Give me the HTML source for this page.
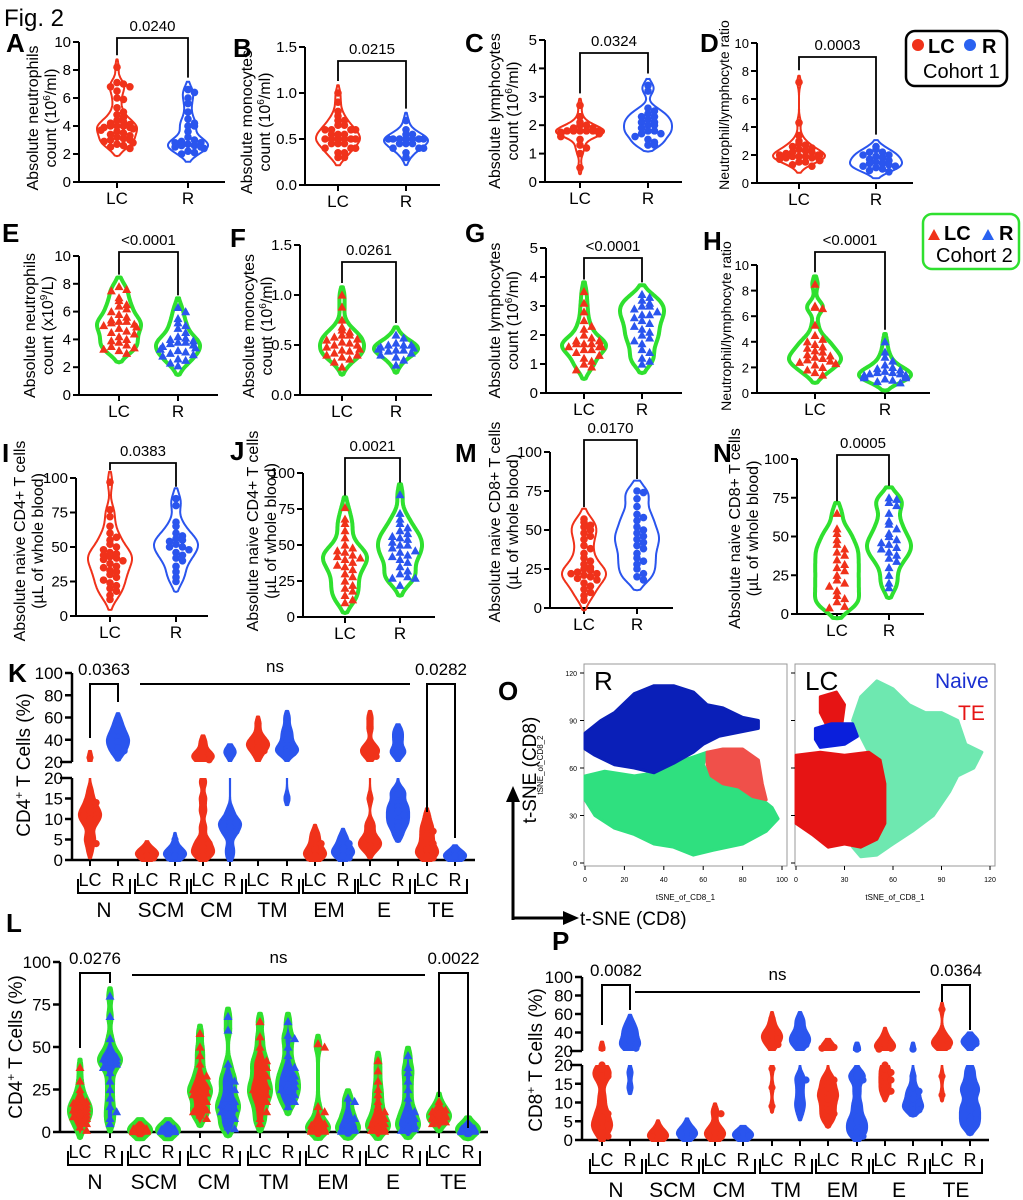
<!DOCTYPE html>
<html><head><meta charset="utf-8"><style>
html,body{margin:0;padding:0;background:#fff;}
svg{display:block;font-family:"Liberation Sans",sans-serif;}
</style></head><body>
<svg id="fig" width="1023" height="1200" viewBox="0 0 1023 1200" xmlns="http://www.w3.org/2000/svg">
<defs>
<clipPath id="kLow"><rect x="60" y="778" width="430" height="84"/></clipPath>
<clipPath id="kUp"><rect x="60" y="660" width="430" height="102"/></clipPath>
<clipPath id="pLow"><rect x="570" y="1065" width="430" height="77"/></clipPath>
<clipPath id="pUp"><rect x="570" y="965" width="430" height="86"/></clipPath>
</defs>
<text x="4" y="26" font-size="24">Fig. 2</text>
<g>
<rect x="906" y="31" width="101" height="55" rx="9" fill="#fff" stroke="#000" stroke-width="2.5"/>
<circle cx="918" cy="45" r="6" fill="#f0321a"/>
<text x="928" y="53" font-size="20" font-weight="bold">LC</text>
<circle cx="970" cy="45" r="6" fill="#2a62f0"/>
<text x="982" y="53" font-size="20" font-weight="bold">R</text>
<text x="923" y="78" font-size="20">Cohort 1</text>
</g>
<g>
<rect x="923" y="214" width="96" height="55" rx="9" fill="#fff" stroke="#2fe02f" stroke-width="2.5"/>
<polygon points="928,240 934,229 940,240" fill="#f0321a"/>
<text x="944" y="240" font-size="20" font-weight="bold">LC</text>
<polygon points="982,240 988,229 994,240" fill="#2a62f0"/>
<text x="999" y="240" font-size="20" font-weight="bold">R</text>
<text x="936" y="262" font-size="20">Cohort 2</text>
</g>
<g id="panels"></g>
<g id="tsne"></g>
</svg>
<script>
// ---------- DATA ----------
const categoriesPair = ["LC","R"];
const A_LC=[8.2,7.1,7,6.8,6.8,6.5,6,5.9,5.3,5,4.8,4.6,4.4,4.3,4.2,4.1,4,4,4,3.9,3.9,3.8,3.7,3.6,3.5,3.4,3.3,3.2,3.1,3,3,2.9,2.8,2.7,2.6,2.5,2.4];
const A_R=[6.6,6.4,6,5.6,5,4.5,4.2,4,4,3.6,3.2,3,2.9,2.8,2.8,2.7,2.6,2.6,2.5,2.5,2.4,2.2,2.1,2];
const B_LC=[1.0,0.9,0.8,0.75,0.7,0.7,0.65,0.65,0.6,0.6,0.6,0.6,0.55,0.55,0.55,0.5,0.5,0.5,0.5,0.5,0.5,0.45,0.45,0.45,0.4,0.4,0.4,0.35,0.35,0.3,0.3];
const B_R=[0.7,0.6,0.55,0.55,0.5,0.5,0.5,0.5,0.5,0.5,0.5,0.45,0.45,0.45,0.4,0.4,0.4,0.35,0.3];
const C_LC=[2.7,2.3,2.1,2,2,1.9,1.9,1.8,1.8,1.8,1.8,1.8,1.8,1.75,1.75,1.7,1.7,1.7,1.7,1.6,1.5,1.3,1.2,1,0.5];
const C_R=[3.4,3.2,2.6,2.5,2.4,2.3,2.3,2.2,2.1,2.1,2,2,1.9,1.8,1.8,1.7,1.7,1.6,1.5,1.4,1.3,1.3];
const D_LC=[7.2,4.3,3.4,3,2.8,2.7,2.6,2.5,2.4,2.3,2.2,2.2,2.1,2,2,2,1.9,1.9,1.9,1.8,1.8,1.8,1.7,1.6,1.5,1.5,1.3,1.2];
const D_R=[2.6,2.4,2.2,2.2,2,2,1.9,1.8,1.7,1.6,1.5,1.4,1.4,1.3,1.2,1.2,1.1,1,0.9,0.8];
const E_LC=[7.8,7.6,7.5,7,6.8,6.5,6.4,6.2,6,5.8,5.6,5.4,5.3,5.3,5.2,5.1,5,4.9,4.8,4.6,4.5,4.4,4.2,4,3.9,3.8,3.6,3.5,3.4,3.3,3.2,3];
const E_R=[6.3,6,5.5,5.2,5,4.8,4.5,4.2,4.1,4,3.9,3.8,3.8,3.7,3.6,3.5,3.4,3.3,3.2,3.1,3,2.9,2.8,2.6,2.5,2.3,2.1];
const F_LC=[1.0,0.88,0.75,0.68,0.65,0.63,0.6,0.6,0.58,0.56,0.55,0.53,0.52,0.5,0.5,0.48,0.46,0.45,0.44,0.42,0.4,0.4,0.38,0.36,0.33,0.28];
const F_R=[0.6,0.57,0.52,0.5,0.5,0.5,0.48,0.47,0.46,0.45,0.45,0.44,0.42,0.4,0.38,0.35,0.3];
const G_LC=[3.5,3.1,2.8,2.5,2.3,2.2,2,1.9,1.8,1.8,1.7,1.7,1.7,1.6,1.6,1.6,1.5,1.5,1.4,1.3,1.2,1.1,1,0.9,0.8];
const G_R=[3.4,3.3,3.2,3.1,3,3,2.9,2.8,2.7,2.7,2.6,2.5,2.4,2.3,2.2,2.1,2,1.9,1.8,1.7,1.5,1.4,1.2,1.1,1];
const H_LC=[8.5,6.8,6.7,6.6,5.3,4.5,4.2,4,3.8,3.6,3.5,3.3,3.2,3,2.9,2.8,2.7,2.6,2.5,2.4,2.3,2.2,2,1.8,1.6,1.4];
const H_R=[4,3.2,2.8,2.5,2.2,2,1.9,1.8,1.7,1.6,1.6,1.5,1.5,1.4,1.4,1.3,1.3,1.2,1.2,1.1,1.0,0.9,0.8];
const I_LC=[97,77,72,65,60,57,55,52,50,48,46,45,44,43,42,41,40,38,36,35,33,32,30,28,26,24,22,20,18,15,12];
const I_R=[85,80,68,65,60,58,56,55,54,52,50,50,48,46,44,42,40,36,32,28,25];
const J_LC=[76,68,65,60,55,50,48,46,45,43,42,41,40,38,36,35,33,30,28,25,22,20,18,15,12,10];
const J_R=[85,72,68,65,62,60,58,56,55,54,52,50,50,48,46,45,43,42,40,38,35,32,30,28,27,27,22];
const M_LC=[57,55,53,52,50,48,46,44,40,38,35,32,30,28,26,25,24,23,22,22,21,20,19,18,16,14,12,10,8,5];
const M_R=[75,74,70,65,60,58,56,52,50,48,46,44,42,40,38,35,32,30,28,25,22,20,18];
const N_LC=[65,55,52,48,45,42,40,38,35,32,30,28,25,22,20,18,15,12,10,8,5,4];
const N_R=[75,74,72,70,65,60,58,55,52,50,48,46,45,43,42,40,38,36,34,30,25,20,17];

const subsetCategories=["N","SCM","CM","TM","EM","E","TE"];
const K_LC=[[24,17,15,14,13,12,12,11,11,10,10,9,8,6,5,4,2],[3,2.5,2,2,1.8,1.5,1.5,1.2,1,1,0.8,0.5],[38,28,26,24,22,19,15,12,8,5,4,3,2,1.5,1],[55,45,40,38,36,35,33,30,25],[7,6,5,4,3,2.5,2,1.5,1.2,1,0.8,0.5],[60,50,35,32,30,28,25,15,9,8,6,5,4.5,4,3.5,3,2],[11,9,8,7,6,5,4,3,2.5,2,1.5,1,0.5]];
const K_R=[[58,52,48,45,42,40,38,36,33,30,27],[5,3,2.2,2,1.8,1.5,1.2,1,0.8,0.5],[30,28,12,10,9,9,8,7,6,3,1],[60,50,45,40,35,32,30,29,28,15],[6,5,4,3,2.5,2,2,1.5,1,0.5],[48,40,30,28,17,16,14,13,12,11,10,9,8,6],[2,1.5,1.2,1,0.8,0.6,0.5]];
const L_LC=[[38,30,25,22,20,18,17,16,15,14,13,12,11,10,9,8,7,5,3,1],[3,2,2,1.5,1,1,0.8,0.5,0.3],[58,50,45,40,35,33,30,28,27,25,24,23,22,20,18,15,13,12,10,8],[65,56,50,45,42,40,38,35,33,30,28,27,25,23,22,20,18,15,12,8,5],[52,50,15,12,8,6,5,4,3,2,2,1,1,0.5,0.5],[42,36,30,25,22,18,15,12,10,8,6,5,4,3,2,1,0.5],[18,15,13,12,11,10,9,9,8,7,6,5]];
const L_R=[[80,68,55,50,47,45,44,43,42,41,40,38,35,30,25,20,15,12,8,5],[3,2,1.5,1,1,0.8,0.5,0.3],[68,60,40,35,32,30,28,25,22,20,18,16,15,14,12,10,8,5,3,2],[65,57,55,50,45,40,38,35,33,32,30,28,27,25,24,22,20,18,15],[20,18,12,10,8,5,3,2,1.5,1,0.5],[45,38,35,30,25,20,15,12,10,8,6,4,3,2,1],[4,3,2,1.5,1,1,0.5,0.3]];
const P_LC=[[23,20,19,18,17,17,15,12,10,8,7,6,5,4,4,3,2,1],[3.5,2,1.5,1,1,0.8,0.5],[8,7,4,3,2.5,2,1.5,1,0.8,0.5],[55,48,42,40,38,36,35,33,30,27,25,19,14,9],[26,24,23,17,16,15,14,13,12,12,11,10,9,8,7,6,5],[38,32,28,26,25,24,23,22,20,19,18,17,16,15,14,13,12],[65,40,35,32,30,28,27,26,25,17,12]];
const P_R=[[52,45,42,38,33,30,27,25,23,18,14],[4,3,2,1.8,1.5,1.2,1],[2,1.8,1.5,1.2,1,1],[55,50,42,38,35,33,30,27,25,17,16,14,12,10,9,7],[22,18,17,16,13,10,8,6,5,4,3,2,1],[22,17,14,13,12,11,10,9,9,8,8],[33,30,28,19,17,15,14,13,12,10,9,8,7,6,5,4,3]];

const tsneR_blue=[[0,82],[8,90],[15,95],[25,107],[35,112],[45,112],[55,108],[62,100],[70,98],[80,92],[88,90],[88,85],[68,80],[60,75],[55,70],[45,63],[35,57],[25,60],[15,62],[5,68],[0,72]];
const tsneR_green=[[0,55],[10,58],[25,55],[35,57],[45,63],[55,67],[62,70],[60,62],[65,52],[75,48],[85,45],[95,35],[98,28],[92,20],[80,12],[65,8],[55,5],[45,10],[35,12],[25,18],[15,22],[5,30],[0,40]];
const tsneR_red=[[62,70],[70,72],[80,72],[88,65],[90,50],[92,40],[85,42],[78,48],[70,50],[64,55],[62,62]];
const tsneLC_green=[[40,105],[50,115],[60,110],[70,100],[80,95],[90,95],[100,90],[105,75],[115,70],[110,60],[100,55],[95,45],[85,30],[72,20],[60,12],[50,5],[40,4],[35,10],[45,20],[50,40],[45,70],[40,80],[35,90]];
const tsneLC_red=[[0,68],[15,70],[30,68],[45,70],[52,65],[55,50],[55,25],[50,15],[40,10],[30,12],[20,10],[10,18],[0,25]];
const tsneLC_red2=[[15,105],[25,108],[30,100],[28,85],[20,85],[15,95]];
const tsneLC_blue=[[12,85],[22,88],[35,88],[38,80],[30,75],[15,73],[12,78]];

// ---------- HELPERS ----------
const NS="http://www.w3.org/2000/svg";
const RED="#f0321a", BLUE="#2a55ee", GREEN="#2fe02f";
function mk(tag,attrs,parent,txt){const e=document.createElementNS(NS,tag);for(const k in attrs)e.setAttribute(k,attrs[k]);if(txt!==undefined)e.textContent=txt;(parent||document.getElementById('panels')).appendChild(e);return e;}
function kdeViolin(g,pys,cx,maxW,bw,stroke,sw,fill,clip){
  if(!pys.length)return;
  const mn=Math.min(...pys),mx=Math.max(...pys);
  const a=mn-bw*1.3,b=mx+bw*1.3;let dmax=0;const ds=[];
  for(let y=a;y<=b;y+=1){let d=0;for(const p of pys){const z=(y-p)/bw;d+=Math.exp(-0.5*z*z);}ds.push([y,d]);if(d>dmax)dmax=d;}
  const L=[],R=[];
  for(const [y,d] of ds){const w=maxW*d/dmax;R.push((cx+w).toFixed(1)+","+y.toFixed(1));L.unshift((cx-w).toFixed(1)+","+y.toFixed(1));}
  const p=mk('polygon',{points:cx+","+a+" "+R.join(" ")+" "+cx+","+b+" "+L.join(" "),fill:fill,stroke:stroke,'stroke-width':sw,'stroke-linejoin':'round'},g);
  
  
  if(clip)p.setAttribute('clip-path','url(#'+clip+')');
}
function drawPoints(g,pys,cx,spread,color,shape,r){
  const counts={};
  pys.forEach((y)=>{
    const key=Math.round(y/(r*1.6));counts[key]=(counts[key]||0)+1;
    const k=counts[key]-1;const off=(k%2?1:-1)*Math.ceil(k/2)*r*1.7;
    const x=cx+Math.max(-spread,Math.min(spread,off));
    let e;
    if(shape==='tri')e=mk('polygon',{points:`${x-r},${y+r*0.8} ${x},${y-r} ${x+r},${y+r*0.8}`,fill:color},g);
    else e=mk('circle',{cx:x,cy:y,r:r,fill:color},g);
    
    
  });
}
function yTitle(g,lines,x,cy,fs){
  const t=mk('text',{transform:`translate(${x},${cy}) rotate(-90)`,'font-size':fs,'text-anchor':'middle'},g);
  
  
  lines.forEach((l,i)=>{const ts=mk('tspan',{x:0,dy:i?fs*1.12:0},t);ts.innerHTML=l;});
}

// ---------- SIMPLE PANELS ----------
function simplePanel(c){
  const g=mk('g',{});
  
  
  const ys=v=>c.y0-(v/c.max)*(c.y0-c.yTop);
  mk('line',{x1:c.ax,y1:c.yTop,x2:c.ax,y2:c.y0,stroke:'#000','stroke-width':2},g);
  mk('line',{x1:c.ax,y1:c.y0,x2:c.x1,y2:c.y0,stroke:'#000','stroke-width':2},g);
  c.ticks.forEach(t=>{const y=ys(t);mk('line',{x1:c.ax-6,y1:y,x2:c.ax,y2:y,stroke:'#000','stroke-width':2},g);
    const tx=mk('text',{x:c.ax-8,y:y+5,'font-size':c.tfs||15,'text-anchor':'end'},g,c.fmt?c.fmt(t):String(t));
    });
  const tops=[];
  [0,1].forEach(i=>{
    const data=c.data[i],cx=c.cx[i];
    mk('line',{x1:cx,y1:c.y0,x2:cx,y2:c.y0+6,stroke:'#000','stroke-width':2},g);
    const lt=mk('text',{x:cx,y:c.y0+22,'font-size':17,'text-anchor':'middle'},g,categoriesPair[i]);
    
    const pys=data.map(ys);const col=i?BLUE:RED;
    if(c.style==='c2'){kdeViolin(g,pys,cx,c.w,c.bw,GREEN,4,'none');drawPoints(g,pys,cx,c.w*0.8,col,'tri',4.5);}
    else{kdeViolin(g,pys,cx,c.w,c.bw,col,2,'none');drawPoints(g,pys,cx,c.w*0.8,col,'c',3.8);}
    tops.push(Math.min(...pys)-12);
  });
  const by=c.by;
  mk('path',{d:`M${c.cx[0]},${tops[0]}V${by}H${c.cx[1]}V${tops[1]}`,fill:'none',stroke:'#000','stroke-width':1.8},g);
  const pt=mk('text',{x:(c.cx[0]+c.cx[1])/2,y:by-7,'font-size':15,'text-anchor':'middle'},g,c.p);
  
  yTitle(g,c.title,c.tx,(c.yTop+c.y0)/2+(c.tdy||0),c.tfs2||16);
  const lb=mk('text',{x:c.lx,y:c.ly,'font-size':26,'font-weight':'bold'},g,c.label);
  
}
const f1=t=>t.toFixed(1);
const cnt6='count (10<tspan dy="-6" font-size="10">6</tspan><tspan dy="6">/ml)</tspan>';
const blood='(µL of whole blood)';
simplePanel({label:'A',lx:6,ly:52,ax:79,x1:225,yTop:42,y0:182,max:10,ticks:[0,2,4,6,8,10],cx:[117,188],data:[A_LC,A_R],style:'c1',w:20,bw:6,by:38,p:'0.0240',title:['Absolute neutrophils',cnt6],tx:38,tdy:6});
simplePanel({label:'B',lx:233,ly:57,ax:305,x1:440,yTop:47,y0:185,max:1.5,ticks:[0,0.5,1,1.5],fmt:f1,cx:[338,406],data:[B_LC,B_R],style:'c1',w:22,bw:6,by:61,p:'0.0215',title:['Absolute monocytes',cnt6],tx:252,tdy:6});
simplePanel({label:'C',lx:465,ly:52,ax:545,x1:682,yTop:40,y0:182,max:5,ticks:[0,1,2,3,4,5],cx:[580,648],data:[C_LC,C_R],style:'c1',w:24,bw:5,by:53,p:'0.0324',title:['Absolute lymphocytes',cnt6],tx:500});
simplePanel({label:'D',lx:700,ly:52,ax:757,x1:913,yTop:43,y0:183,max:10,ticks:[0,2,4,6,8,10],tfs:13,cx:[799,876],data:[D_LC,D_R],style:'c1',w:26,bw:5,by:57,p:'0.0003',title:['Neutrophil/lymphocyte ratio'],tx:729,tfs2:14,tdy:-8});
simplePanel({label:'E',lx:2,ly:242,ax:79,x1:218,yTop:256,y0:395,max:10,ticks:[0,2,4,6,8,10],cx:[119,178],data:[E_LC,E_R],style:'c2',w:22,bw:7,by:252,p:'<0.0001',title:['Absolute neutrophils','count (x10<tspan dy="-6" font-size="10">9</tspan><tspan dy="6">/L)</tspan>'],tx:35});
simplePanel({label:'F',lx:230,ly:247,ax:300,x1:432,yTop:245,y0:395,max:1.5,ticks:[0,0.5,1,1.5],fmt:f1,cx:[342,396],data:[F_LC,F_R],style:'c2',w:22,bw:6,by:262,p:'0.0261',title:['Absolute monocytes',cnt6],tx:254,tdy:6});
simplePanel({label:'G',lx:465,ly:242,ax:546,x1:682,yTop:248,y0:393,max:5,ticks:[0,1,2,3,4,5],cx:[584,642],data:[G_LC,G_R],style:'c2',w:22,bw:7,by:258,p:'<0.0001',title:['Absolute lymphocytes',cnt6],tx:500});
simplePanel({label:'H',lx:703,ly:250,ax:757,x1:930,yTop:265,y0:393,max:10,ticks:[0,2,4,6,8,10],tfs:13,cx:[815,885],data:[H_LC,H_R],style:'c2',w:26,bw:6,by:252,p:'<0.0001',title:['Neutrophil/lymphocyte ratio'],tx:731,tfs2:14,tdy:-3});
simplePanel({label:'I',lx:2,ly:462,ax:76,x1:208,yTop:478,y0:616,max:100,ticks:[0,25,50,75,100],cx:[110,176],data:[I_LC,I_R],style:'c1',w:22,bw:8,by:463,p:'0.0383',title:['Absolute naive CD4+ T cells',blood],tx:25,tdy:-6});
simplePanel({label:'J',lx:230,ly:460,ax:303,x1:435,yTop:473,y0:617,max:100,ticks:[0,25,50,75,100],cx:[345,400],data:[J_LC,J_R],style:'c2',w:22,bw:8,by:458,p:'0.0021',title:['Absolute naive CD4+ T cells',blood],tx:258,tdy:-14});
simplePanel({label:'M',lx:455,ly:462,ax:550,x1:673,yTop:452,y0:608,max:100,ticks:[0,25,50,75,100],cx:[584,637],data:[M_LC,M_R],style:'c1',w:22,bw:8,by:440,p:'0.0170',title:['Absolute naive CD8+ T cells',blood],tx:500,tdy:-8});
simplePanel({label:'N',lx:713,ly:462,ax:797,x1:924,yTop:459,y0:614,max:100,ticks:[0,25,50,75,100],cx:[837,889],data:[N_LC,N_R],style:'c2',w:22,bw:8,by:455,p:'0.0005',title:['Absolute naive CD8+ T cells',blood],tx:740,tdy:-8});

// ---------- GROUPED PANELS ----------
function groupedPanel(c){
  const g=mk('g',{});
  
  
  let ys;
  if(c.broken){ys=v=>v<=20?c.y0-(v/20)*(c.y0-c.yL20):c.yU20-((v-20)/80)*(c.yU20-c.yTop);}
  else ys=v=>c.y0-(v/c.max)*(c.y0-c.yTop);
  const segs=c.broken?[[c.yL20,c.y0,[0,5,10,15,20]],[c.yTop,c.yU20,[20,40,60,80,100]]]:[[c.yTop,c.y0,c.ticks]];
  segs.forEach((s,si)=>{
    mk('line',{x1:c.ax,y1:s[0],x2:c.ax,y2:s[1],stroke:'#000','stroke-width':2.5},g);
    s[2].forEach(t=>{const y=(si===0&&c.broken)?c.y0-(t/20)*(c.y0-c.yL20):ys(t);
      const yy=(c.broken&&si===1&&t===20)?c.yU20:y;
      mk('line',{x1:c.ax-(t===20&&c.broken?12:7),y1:yy,x2:c.ax,y2:yy,stroke:'#000','stroke-width':2.5},g);
      const tx=mk('text',{x:c.ax-9,y:yy+6,'font-size':17,'text-anchor':'end'},g,String(t));
      });
  });
  mk('line',{x1:c.ax,y1:c.y0,x2:c.x1,y2:c.y0,stroke:'#000','stroke-width':2.5},g);
  subsetCategories.forEach((cat,gi)=>{
    const cxs=c.cx[gi];
    [0,1].forEach(i=>{
      const data=(i?c.dR:c.dL)[gi],cx=cxs[i],col=i?BLUE:RED;
      mk('line',{x1:cx,y1:c.y0,x2:cx,y2:c.y0+6,stroke:'#000','stroke-width':2},g);
      const lt=mk('text',{x:cx,y:c.y0+26,'font-size':18,'text-anchor':'middle'},g,categoriesPair[i]);
      
      const pys=data.map(ys);
      if(c.broken){
        kdeViolin(g,pys,cx,c.w,c.bw,col,2.2,col,c.clipLow);
        kdeViolin(g,pys,cx,c.w,c.bw,col,2.2,col,c.clipUp);
        drawPoints(g,pys,cx,c.w*0.6,col,'c',3.6);
      } else {
        kdeViolin(g,pys,cx,c.w,c.bw,GREEN,4,col);
        drawPoints(g,pys,cx,c.w*0.6,col,'tri',4.5);
      }
    });
    const bx0=cxs[0]-12,bx1=cxs[1]+12,byy=c.y0+19;
    mk('path',{d:`M${bx0},${byy}V${byy+14}H${bx1}V${byy}`,fill:'none',stroke:'#000','stroke-width':2},g);
    const gl=mk('text',{x:(cxs[0]+cxs[1])/2,y:c.y0+57,'font-size':21,'text-anchor':'middle'},g,cat);
    
  });
  const b=c.by;
  mk('path',{d:`M${c.cx[0][0]},${c.ndrop[0]}V${b}H${c.cx[0][1]}V${c.ndrop[1]}`,fill:'none',stroke:'#000','stroke-width':2},g);
  mk('path',{d:`M${c.cx[6][0]},${c.tdrop[0]}V${b}H${c.cx[6][1]}V${c.tdrop[1]}`,fill:'none',stroke:'#000','stroke-width':2},g);
  mk('line',{x1:c.ns[0],y1:c.nsy,x2:c.ns[1],y2:c.nsy,stroke:'#000','stroke-width':2},g);
  let t=mk('text',{x:(c.cx[0][0]+c.cx[0][1])/2,y:b-9,'font-size':17,'text-anchor':'middle'},g,c.p1);
  t=mk('text',{x:(c.cx[6][0]+c.cx[6][1])/2,y:b-9,'font-size':17,'text-anchor':'middle'},g,c.p2);
  t=mk('text',{x:(c.ns[0]+c.ns[1])/2,y:c.nsy-12,'font-size':17,'text-anchor':'middle'},g,'ns');
  yTitle(g,[c.title],c.tx,c.tcy,19);
  const lb=mk('text',{x:c.lx,y:c.ly,'font-size':26,'font-weight':'bold'},g,c.label);
  
}
const cd4='CD4<tspan dy="-7" font-size="12">+</tspan><tspan dy="7"> T Cells (%)</tspan>';
const cd8='CD8<tspan dy="-7" font-size="12">+</tspan><tspan dy="7"> T Cells (%)</tspan>';
groupedPanel({label:'K',lx:8,ly:682,broken:true,ax:72,x1:475,yTop:673,yU20:762,yL20:778,y0:860,
  cx:[[90,118],[147,175],[203,230],[258,287],[315,343],[370,398],[427,455]],dL:K_LC,dR:K_R,w:11,bw:5,clipLow:'kLow',clipUp:'kUp',
  by:684,ndrop:[738,702],tdrop:[812,838],ns:[140,410],nsy:684,p1:'0.0363',p2:'0.0282',title:cd4,tx:30,tcy:765});
groupedPanel({label:'L',lx:6,ly:932,broken:false,ax:60,x1:488,yTop:962,y0:1132,max:100,ticks:[0,25,50,75,100],
  cx:[[80,110],[140,168],[200,228],[260,288],[318,348],[378,408],[439,468]],dL:L_LC,dR:L_R,w:11,bw:6,
  by:973,ndrop:[1048,983],tdrop:[1097,1128],ns:[132,425],nsy:975,p1:'0.0276',p2:'0.0022',title:cd4,tx:22,tcy:1047});
groupedPanel({label:'P',lx:552,ly:950,broken:true,ax:582,x1:989,yTop:977,yU20:1051,yL20:1065,y0:1140,
  cx:[[602,630],[658,687],[715,743],[772,800],[828,857],[885,913],[942,970]],dL:P_LC,dR:P_R,w:10,bw:5,clipLow:'pLow',clipUp:'pUp',
  by:985,ndrop:[1025,1010],tdrop:[1002,1030],ns:[635,920],nsy:992,p1:'0.0082',p2:'0.0364',title:cd8,tx:542,tcy:1060});

// ---------- t-SNE ----------
(function(){
  const g=document.getElementById('tsne');
  function plot(x0,x1,y0,y1,xmax,name,xticks,polys,ylabels){
    const sx=v=>x0+1+(v/xmax)*(x1-x0-6), sy=v=>y1-3-(v/120)*(y1-y0-12);
    const box=mk('rect',{x:x0,y:y0,width:x1-x0,height:y1-y0,fill:'#fff',stroke:'#999','stroke-width':1},g);
    
    polys.forEach(([pts,col])=>{
      const p=mk('polygon',{points:pts.map(q=>sx(q[0]).toFixed(1)+','+sy(q[1]).toFixed(1)).join(' '),fill:col,stroke:col,'stroke-width':3,'stroke-linejoin':'round'},g);
      
    });
    xticks.forEach(t=>{mk('line',{x1:sx(t),y1:y1,x2:sx(t),y2:y1+4,stroke:'#000'},g);mk('text',{x:sx(t),y:y1+16,'font-size':7,'text-anchor':'middle'},g,String(t));});
    [0,30,60,90,120].forEach(t=>{mk('line',{x1:x0-4,y1:sy(t),x2:x0,y2:sy(t),stroke:'#000'},g);if(ylabels)mk('text',{x:x0-7,y:sy(t)+3,'font-size':7,'text-anchor':'end'},g,String(t));});
    mk('text',{x:x0+10,y:y0+26,'font-size':26},g,name);
    mk('text',{x:(x0+x1)/2,y:y1+34,'font-size':8,'text-anchor':'middle'},g,'tSNE_of_CD8_1');
  }
  plot(584,787,664,866,100,'R',[0,20,40,60,80,100],[[tsneR_green,'#2fe07f'],[tsneR_blue,'#0a1fb8'],[tsneR_red,'#f0504a']],true);
  plot(795,995,664,866,120,'LC',[0,30,60,90,120],[[tsneLC_green,'#6ee8b0'],[tsneLC_red,'#e61414'],[tsneLC_red2,'#e61414'],[tsneLC_blue,'#0a1fdc']],false);
  mk('text',{transform:'translate(543,765) rotate(-90)','font-size':8,'text-anchor':'middle'},g,'tSNE_of_CD8_2');
  mk('text',{x:935,y:688,'font-size':21,fill:'#1a2fd0'},g,'Naive');
  mk('text',{x:958,y:720,'font-size':21,fill:'#e61414'},g,'TE');
  mk('text',{x:498,y:700,'font-size':26,'font-weight':'bold'},g,'O');
  mk('line',{x1:513,y1:920,x2:513,y2:800,stroke:'#000','stroke-width':3},g);
  mk('polygon',{points:'506,802 513,786 520,802',fill:'#000'},g);
  mk('line',{x1:513,y1:918,x2:565,y2:918,stroke:'#000','stroke-width':3},g);
  mk('polygon',{points:'563,911 579,918 563,925',fill:'#000'},g);
  mk('text',{x:580,y:925,'font-size':19},g,'t-SNE (CD8)');
  mk('text',{transform:'translate(536,770) rotate(-90)','font-size':19,'text-anchor':'middle'},g,'t-SNE (CD8)');
})();
</script>
</body></html>
